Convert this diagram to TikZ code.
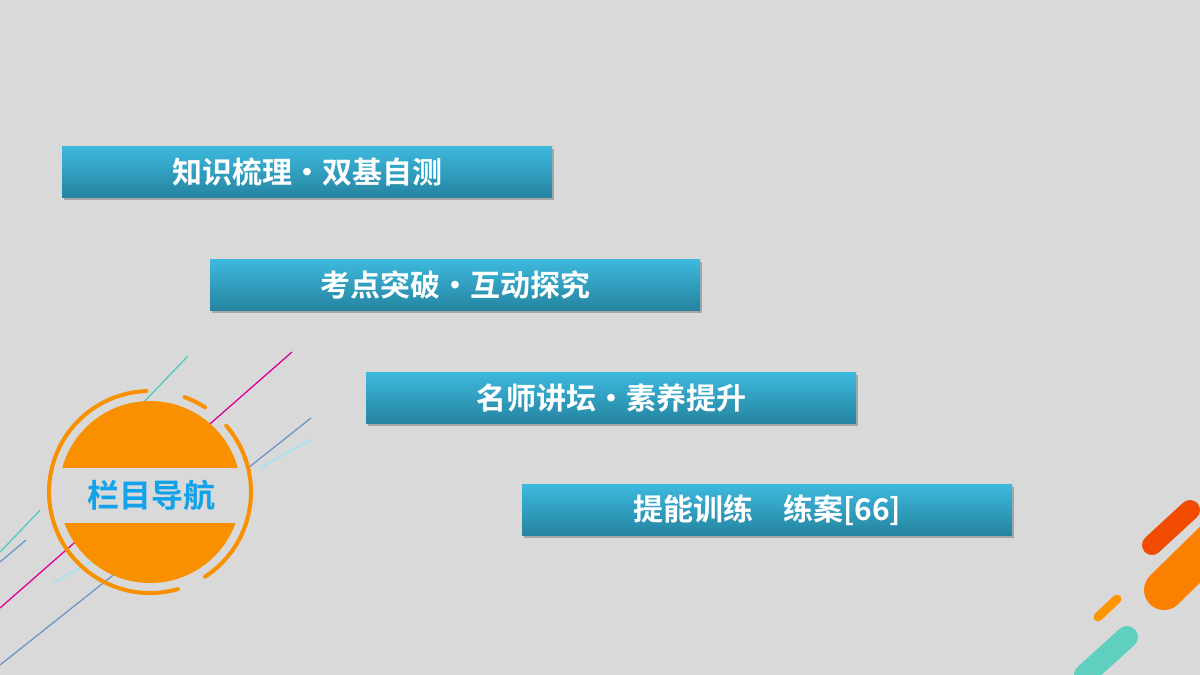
\documentclass[tikz,border=0pt]{standalone}
\usepackage{fontspec}
\newfontfamily\cjk{Noto Sans CJK SC}[BoldFont=* Bold]
\begin{document}
\begin{tikzpicture}[x=1pt,y=-1pt,
    bar/.style={minimum width=490pt,minimum height=51pt,anchor=north west,
      top color=barTop,bottom color=barBot,inner sep=0pt,
      font=\cjk\bfseries\fontsize{30}{32}\selectfont,text=white},
    ring/.style={draw=navOrange,line width=4pt,line cap=round},
    deco/.style={line width=1.3pt},
    blob/.style={line cap=round}]
  \definecolor{bgGray}{HTML}{D9D9D9}
  \definecolor{barTop}{HTML}{3DB9DE}
  \definecolor{barBot}{HTML}{2584A0}
  \definecolor{navOrange}{HTML}{F89000}
  \definecolor{navBlue}{HTML}{12A2EA}
  \fill[bgGray] (0,0) rectangle (1200,675);
  \useasboundingbox (0,0) rectangle (1200,675);

  % thin lines behind the badge
  \draw[deco,color={rgb,255:red,80;green,205;blue,190}] (188,356) -- (0,552);
  \draw[deco,color={rgb,255:red,220;green,0;blue,150}] (292,352) -- (0,608);
  \draw[deco,color={rgb,255:red,110;green,150;blue,200}] (311,418) -- (0,665);
  \draw[deco,color={rgb,255:red,110;green,150;blue,200}] (26,540) -- (0,562);
  \draw[deco,color={rgb,255:red,150;green,230;blue,245}] (312,439) -- (53,583);

  % badge
  \coordinate (badge) at (150,492);
  \fill[navOrange] (badge) circle (91);
  \fill[bgGray] (40,468) rectangle (260,523);
  \draw[ring] (badge) ++(74:101) arc (74:268:101);
  \draw[ring] (badge) ++(57:101) arc (57:-41:101);
  \draw[ring] (badge) ++(-70:101) arc (-70:-57:101);
  \node[text=navBlue,font=\cjk\bfseries\fontsize{32}{34}\selectfont] (nav) at (151,495) {栏目导航};

  % menu bars
  \foreach \x/\y/\name/\txt in {62/146/b1/{知识梳理·双基自测},210/259/b2/{考点突破·互动探究},
      366/372/b3/{名师讲坛·素养提升},522/484/b4/{提能训练\quad 练案[66]}}{
    \fill[black!35] (\x+2,\y+3) rectangle ++(490,51);
    \node[bar] (\name) at (\x,\y) {\txt};
  }

  % corner strokes
  \draw[blob,line width=20pt,color={rgb,255:red,240;green,75;blue,0}] (1190,510) -- (1152,545);
  \draw[blob,line width=40pt,color={rgb,255:red,252;green,128;blue,0}] (1215,540) -- (1164,590);
  \draw[blob,line width=9pt,color={rgb,255:red,252;green,150;blue,0}] (1117,599) -- (1098,617);
  \draw[blob,line width=22pt,color={rgb,255:red,96;green,208;blue,190}] (1127,637) -- (1085,675);
\end{tikzpicture}
\end{document}
